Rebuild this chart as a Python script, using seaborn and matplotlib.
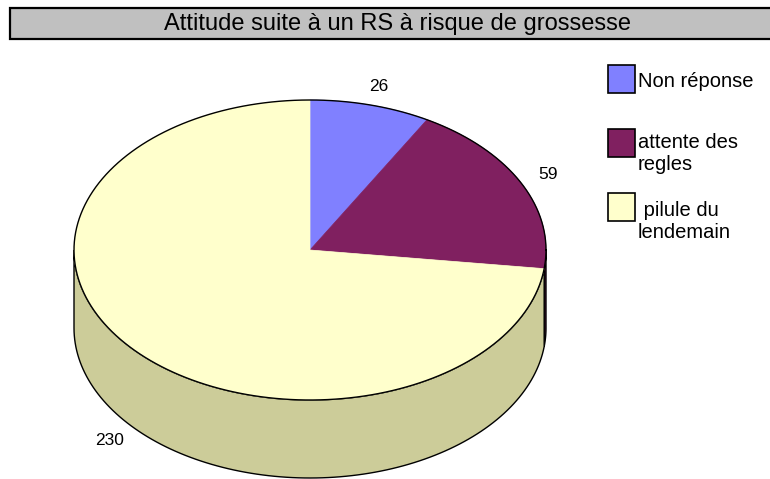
import numpy as np
import matplotlib
matplotlib.use("Agg")
import matplotlib.pyplot as plt
from matplotlib.patches import Polygon, Rectangle
import seaborn as sns

# data
categories = ["Non réponse", "attente des\nregles", " pilule du\nlendemain"]
counts = [26, 59, 230]
top_colors = ["#8080FF", "#802060", "#FFFFCC"]
side_colors = ["#6666CC", "#5E1747", "#CCCC99"]
title = "Attitude suite à un RS à risque de grossesse"

sns.set_theme(style="white")
plt.rcParams["font.family"] = ["Liberation Sans", "DejaVu Sans"]

W, H = 770, 479
fig = plt.figure(figsize=(W / 100, H / 100), dpi=100)
ax = fig.add_axes([0, 0, 1, 1])
ax.set_xlim(0, W)
ax.set_ylim(H, 0)
ax.axis("off")

# pie geometry (pixel space)
cx, cy, rx, ry, depth = 310, 250, 236, 150, 78


def ell(t, dy=0.0):
    t = np.radians(t)
    return np.column_stack([cx + rx * np.cos(t), cy - ry * np.sin(t) + dy])


frac = np.array(counts) / sum(counts)
cum = np.concatenate([[0], np.cumsum(frac)])
starts = 90 - cum[:-1] * 360
ends = 90 - cum[1:] * 360

# side walls (only the front half, angles between -180 and 0)
for s, e, col in zip(starts, ends, side_colors):
    a, b = min(s, 0), max(e, -180)
    if a <= b:
        continue
    t = np.linspace(a, b, 120)
    pts = np.vstack([ell(t), ell(t[::-1], depth)])
    ax.add_patch(Polygon(pts, closed=True, fc=col, ec="black", lw=1, zorder=1))

# top face
for s, e, col in zip(starts, ends, top_colors):
    t = np.linspace(s, e, 200)
    pts = np.vstack([[cx, cy], ell(t)])
    ax.add_patch(Polygon(pts, closed=True, fc=col, ec=col, lw=0.5, zorder=2))
t = np.linspace(0, 360, 400)
ax.plot(*ell(t).T, color="black", lw=1, zorder=3)

# value labels
for s, e, n in zip(starts, ends, counts):
    m = np.radians((s + e) / 2)
    x = cx + rx * 1.13 * np.cos(m)
    y = cy - ry * 1.13 * np.sin(m)
    if np.sin(m) < 0:
        y += depth
    ax.text(x, y, str(n), fontsize=12.5, ha="center", va="center", color="black", zorder=4)

# title box (runs off the right edge)
ax.add_patch(Rectangle((10, 8), 775, 31, fc="#C0C0C0", ec="black", lw=1.6, zorder=1))
ax.text(398, 24, title, fontsize=17, ha="center", va="center", color="black")

# legend
leg_y = [79, 143, 207]
text_y = [81, 154, 221]
for yy, ty, lab, col in zip(leg_y, text_y, categories, top_colors):
    ax.add_patch(Rectangle((608, yy - 14), 27, 28, fc=col, ec="black", lw=1.2, zorder=2))
    ax.text(638, ty, lab, fontsize=14.5, ha="left", va="center", linespacing=1.2, color="black")

fig.savefig("out.png", dpi=100)
